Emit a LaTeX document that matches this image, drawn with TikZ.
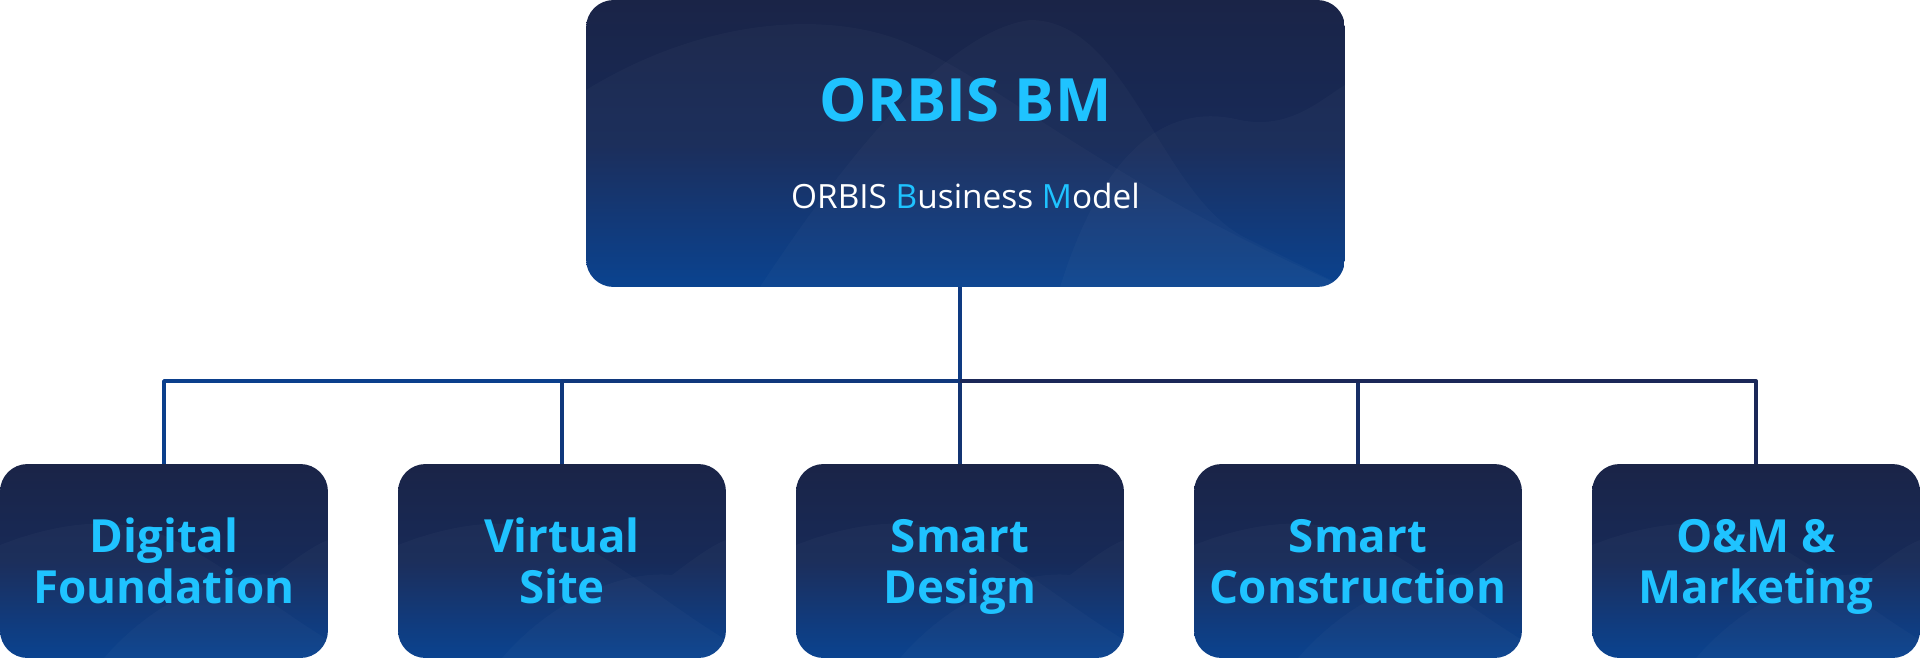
\documentclass[tikz,border=0pt]{standalone}
\usepackage{fontspec}
\setmainfont{Open Sans}
\usetikzlibrary{positioning}

\definecolor{navytop}{HTML}{1A2447}
\definecolor{navymid}{HTML}{172A58}
\definecolor{navybot}{HTML}{053F8E}
\definecolor{glowcyan}{HTML}{1FC3FF}
\definecolor{linkblue}{HTML}{0B3F8C}
\definecolor{linknavy}{HTML}{1B2858}

\tikzset{
  panel/.style={rounded corners=0.55cm, top color=navytop, bottom color=navybot,
                middle color=navymid, draw=none, inner sep=0pt},
  link/.style={line width=2.2pt, line join=round},
  wave/.style={fill=white, fill opacity=0.025, draw=none}
}

\begin{document}
\begin{tikzpicture}[x=0.02cm, y=-0.02cm]
    \useasboundingbox (0,0) rectangle (1920,659);

    % Top box
    \node[panel, minimum width=15.18cm, minimum height=5.74cm] (top) at (965.5,143.5) {};
    \begin{scope}
        \clip[rounded corners=0.55cm] (586,0) rectangle (1345,287);
        \fill[wave] (586,90) .. controls (700,20) and (820,10) .. (900,40) .. controls (1000,80) and (1100,180) .. (1345,287) -- (586,287) -- cycle;
        \fill[wave] (760,287) .. controls (850,150) and (950,30) .. (1030,20) .. controls (1130,20) and (1160,200) .. (1250,240) -- (1345,287) -- cycle;
        \fill[wave] (1060,287) .. controls (1100,160) and (1160,100) .. (1240,120) .. controls (1290,130) and (1320,100) .. (1345,85) -- (1345,287) -- cycle;
    \end{scope}
    \node[align=center] at (top.center) {%
        {\fontsize{34}{40}\selectfont\bfseries\color{glowcyan} ORBIS BM}\\[1.2cm]
        {\fontsize{19}{22}\selectfont\color{white} ORBIS {\color{glowcyan}B}usiness {\color{glowcyan}M}odel}};

    % Bottom boxes
    \foreach \i/\cx/\la/\lb in {1/164/Digital/Foundation, 2/562/Virtual/Site,
                                3/960/Smart/Design, 4/1358/Smart/Construction,
                                5/1756/{O\&M \&}/Marketing} {
        \node[panel, minimum width=6.56cm, minimum height=3.88cm] (b\i) at (\cx,561) {};
        \begin{scope}
            \clip[rounded corners=0.55cm] (\cx-164,464) rectangle (\cx+164,658);
            \fill[wave] (\cx-164,545) .. controls (\cx-100,520) and (\cx-40,515) .. (\cx+10,540) .. controls (\cx+60,565) and (\cx+100,600) .. (\cx+164,640) -- (\cx+164,658) -- (\cx-164,658) -- cycle;
            \fill[wave] (\cx-60,658) .. controls (\cx-10,600) and (\cx+60,570) .. (\cx+110,575) .. controls (\cx+130,560) and (\cx+150,545) .. (\cx+164,540) -- (\cx+164,658) -- cycle;
        \end{scope}
        \node[align=center, text=glowcyan, font=\fontsize{26}{29}\selectfont\bfseries] (t\i) at (\cx,568) {\strut\la\\\strut\lb};
    }

    % Connectors
    \coordinate (bus) at (960,381);
    \draw[link, color=linkblue!80!linknavy] (bus |- top.south) -- (bus);
    \draw[link, color=linkblue] (b1.north) |- (bus);
    \draw[link, color=linkblue!70!linknavy] (b2.north) |- (bus);
    \draw[link, color=linkblue!50!linknavy] (b3.north) -- (bus);
    \draw[link, color=linkblue!25!linknavy] (b4.north) |- (bus);
    \draw[link, color=linknavy] (b5.north) |- (bus);
\end{tikzpicture}
\end{document}
